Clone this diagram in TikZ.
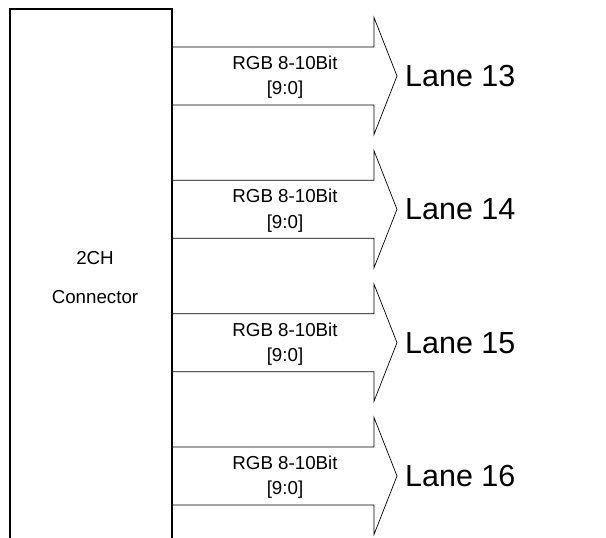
\documentclass[tikz,border=0pt]{standalone}
\usepackage{fontspec}
\setmainfont{Liberation Sans}

\begin{document}
\begin{tikzpicture}[x=0.03cm,y=-0.03cm]
\useasboundingbox (0,0) rectangle (606,538);
\draw[line width=1.1pt] (10,538) -- (10,9) -- (172,9) -- (172,538);
\node[font=\fontsize{16}{19}\selectfont,inner sep=0pt] (conn2ch) at (95,258) {2CH};
\node[font=\fontsize{16}{19}\selectfont,inner sep=0pt] (connname) at (95,297) {Connector};
\draw[line width=0.6pt] (172,47) -- (374,47) -- (374,17.5) -- (397,76) -- (374,134.5) -- (374,105) -- (172,105);
\node[font=\fontsize{16}{19}\selectfont,inner sep=0pt] (bus13) at (285,63) {RGB 8-10Bit};
\node[font=\fontsize{16}{19}\selectfont,inner sep=0pt] (bits13) at (285,90) {[9:0]};
\node[font=\fontsize{26}{31}\selectfont,anchor=west,inner sep=0pt] (lane13) at (405,76) {Lane 13};
\draw[line width=0.6pt] (172,180.3) -- (374,180.3) -- (374,150.8) -- (397,209.3) -- (374,267.8) -- (374,238.3) -- (172,238.3);
\node[font=\fontsize{16}{19}\selectfont,inner sep=0pt] (bus14) at (285,196.3) {RGB 8-10Bit};
\node[font=\fontsize{16}{19}\selectfont,inner sep=0pt] (bits14) at (285,223.3) {[9:0]};
\node[font=\fontsize{26}{31}\selectfont,anchor=west,inner sep=0pt] (lane14) at (405,209.3) {Lane 14};
\draw[line width=0.6pt] (172,313.7) -- (374,313.7) -- (374,284.2) -- (397,342.7) -- (374,401.2) -- (374,371.7) -- (172,371.7);
\node[font=\fontsize{16}{19}\selectfont,inner sep=0pt] (bus15) at (285,329.7) {RGB 8-10Bit};
\node[font=\fontsize{16}{19}\selectfont,inner sep=0pt] (bits15) at (285,356.7) {[9:0]};
\node[font=\fontsize{26}{31}\selectfont,anchor=west,inner sep=0pt] (lane15) at (405,342.7) {Lane 15};
\draw[line width=0.6pt] (172,447) -- (374,447) -- (374,417.5) -- (397,476) -- (374,534.5) -- (374,505) -- (172,505);
\node[font=\fontsize{16}{19}\selectfont,inner sep=0pt] (bus16) at (285,463) {RGB 8-10Bit};
\node[font=\fontsize{16}{19}\selectfont,inner sep=0pt] (bits16) at (285,490) {[9:0]};
\node[font=\fontsize{26}{31}\selectfont,anchor=west,inner sep=0pt] (lane16) at (405,476) {Lane 16};
\end{tikzpicture}
\end{document}
